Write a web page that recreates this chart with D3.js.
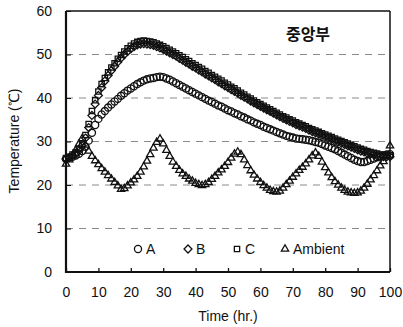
<!doctype html>
<html lang="ko">
<head>
  <meta charset="utf-8">
  <title>중앙부 Temperature</title>
  <style>
    body { margin:0; background:#fff; }
    svg { display:block; font-family:"Liberation Sans", Arial, sans-serif; }
    .grid line { stroke:#8a8a8a; stroke-dasharray:7,6; stroke-width:1; }
    .tick-label { font-size:14px; fill:#111; }
    .mark { fill:none; stroke:#111; stroke-width:1.3; }
  </style>
</head>
<body>
<svg id="chart" width="403" height="327"></svg>

<script src="https://cdn.jsdelivr.net/npm/d3@7"></script>
<script>
// hourly readings, t = 0..100
var hours = d3.range(0, 101);

var seriesA = [26,26.3,26.5,26.8,27.2,27.8,28.8,30.2,32,33.8,
  35.2,36.2,37,37.8,38.5,39.2,39.8,40.5,41.1,41.7,
  42.2,42.7,43.2,43.6,44,44.3,44.5,44.6,44.8,44.9,
  44.8,44.5,44.2,43.8,43.4,43,42.6,42.2,41.8,41.4,
  41,40.6,40.2,39.8,39.4,39.1,38.7,38.3,38,37.6,
  37.2,36.9,36.5,36.2,35.8,35.5,35.1,34.8,34.4,34.1,
  33.8,33.4,33.1,32.8,32.5,32.2,31.9,31.6,31.3,31.1,
  30.9,30.7,30.6,30.5,30.4,30.3,30.1,29.9,29.7,29.4,
  29.1,28.8,28.5,28.2,27.8,27.4,27,26.6,26.2,25.8,
  25.5,25.3,25.3,25.5,25.8,26.1,26.4,26.6,26.8,27,27.1];

var seriesB = [26,26.3,26.7,27.2,27.9,29,30.8,33.2,36,38.6,
  40.6,42.4,43.9,45.2,46.3,47.3,48.3,49.2,50,50.7,
  51.3,51.8,52.2,52.4,52.5,52.4,52.3,52.1,51.8,51.5,
  51.2,50.8,50.4,50,49.6,49.1,48.7,48.2,47.8,47.3,
  46.9,46.4,46,45.5,45.1,44.6,44.2,43.7,43.3,42.8,
  42.4,41.9,41.5,41.1,40.6,40.2,39.8,39.3,38.9,38.5,
  38.1,37.7,37.3,36.9,36.5,36.1,35.7,35.3,35,34.6,
  34.3,33.9,33.6,33.3,33,32.6,32.3,32,31.7,31.4,
  31.1,30.8,30.5,30.2,29.9,29.6,29.3,29,28.7,28.4,
  28.1,27.8,27.6,27.3,27.1,26.9,26.7,26.6,26.5,26.5,26.5];

var seriesC = [26.2,26.5,27,27.5,28.3,29.5,31.5,34,37,39.5,
  41.5,43.2,44.6,45.9,47,48,49,49.9,50.7,51.4,
  52,52.5,52.9,53.1,53.2,53.1,53,52.8,52.5,52.2,
  51.9,51.5,51.1,50.7,50.3,49.8,49.4,48.9,48.5,48,
  47.6,47.1,46.7,46.2,45.8,45.3,44.9,44.4,44,43.5,
  43.1,42.6,42.2,41.7,41.2,40.8,40.3,39.9,39.4,39,
  38.6,38.2,37.8,37.4,37,36.6,36.2,35.8,35.5,35.1,
  34.8,34.4,34.1,33.8,33.5,33.1,32.8,32.5,32.2,31.9,
  31.6,31.3,31,30.7,30.4,30.1,29.8,29.5,29.2,28.9,
  28.6,28.3,28.1,27.8,27.6,27.4,27.2,27,26.9,26.8,26.8];

var seriesAmbient = [24.8,25.8,26.8,28,29.4,30.7,29.2,27.8,26.6,25.6,
  24.7,23.8,23,22.2,21.4,20.6,19.8,19,19.2,19.8,
  20.5,21.2,22,23,24.2,25.5,27,28.5,29.8,30.6,
  29.5,28,26.6,25.3,24.3,23.4,22.6,22,21.4,20.9,
  20.4,20.1,19.9,20.1,20.6,21.3,22,22.8,23.5,24.3,
  25.2,26.2,27.1,27.6,27,25.8,24.5,23.3,22.3,21.4,
  20.6,19.9,19.3,18.8,18.5,18.4,18.6,19.3,20.1,20.9,
  21.8,22.6,23.4,24.1,24.9,25.8,26.7,27.4,26.6,25.3,
  24,22.8,21.7,20.8,20,19.3,18.8,18.4,18.2,18.1,
  18.2,18.6,19.3,20.2,21.2,22.2,23.3,24.4,25.4,26.5,29];

var seriesNames = ["A", "B", "C", "Ambient"];
var xTicks = [0,10,20,30,40,50,60,70,80,90,100];
var yTicks = [0,10,20,30,40,50,60];

(function(){
var svg = d3.select("#chart");
var m = { left: 66, right: 390, top: 11, bottom: 272 };

var x = d3.scaleLinear().domain([0, 100]).range([m.left, m.right]);
var y = d3.scaleLinear().domain([0, 60]).range([m.bottom, m.top]);

// dashed grid
svg.append("g").attr("class", "grid")
  .selectAll("line").data(yTicks.filter(function(d){ return d > 0 && d < 60; }))
  .enter().append("line")
  .attr("x1", m.left).attr("x2", m.right)
  .attr("y1", function(d){ return y(d); }).attr("y2", function(d){ return y(d); });

// y axis labels
svg.append("g").attr("transform", "translate(" + m.left + ",0)")
  .call(d3.axisLeft(y).tickValues(yTicks).tickSize(-5).tickPadding(14))
  .call(function(g){
    g.select(".domain").remove();
    g.selectAll("line").attr("stroke", "#111");
    g.selectAll("text").attr("class", "tick-label").style("font-size", "14px")
      .attr("font-family", null);
  });

// x axis labels
svg.append("g").attr("transform", "translate(0," + m.bottom + ")")
  .call(d3.axisBottom(x).tickValues(xTicks).tickSize(-4).tickPadding(15))
  .call(function(g){
    g.select(".domain").remove();
    g.selectAll("line").attr("stroke", "#111").attr("stroke-width", 1.3);
    g.selectAll("text").attr("class", "tick-label").style("font-size", "14px")
      .attr("font-family", null);
  });

// frame
svg.append("line").attr("x1", m.left).attr("x2", m.right).attr("y1", m.top).attr("y2", m.top)
  .attr("stroke", "#111").attr("stroke-width", 1.5);
svg.append("line").attr("x1", m.right).attr("x2", m.right).attr("y1", m.top).attr("y2", m.bottom)
  .attr("stroke", "#111").attr("stroke-width", 1.5);
svg.append("line").attr("x1", m.left).attr("x2", m.left).attr("y1", m.top).attr("y2", m.bottom + 1)
  .attr("stroke", "#111").attr("stroke-width", 2.2);
svg.append("line").attr("x1", m.left).attr("x2", m.right).attr("y1", m.bottom).attr("y2", m.bottom)
  .attr("stroke", "#111").attr("stroke-width", 2);

// marker symbols
var shapes = {
  "A": d3.symbol().type(d3.symbolCircle).size(40),
  "B": d3.symbol().type(d3.symbolDiamond2).size(40),
  "C": d3.symbol().type(d3.symbolSquare2).size(36),
  "Ambient": d3.symbol().type(d3.symbolTriangle2).size(38)
};
var values = { "A": seriesA, "B": seriesB, "C": seriesC, "Ambient": seriesAmbient };

seriesNames.forEach(function(name){
  svg.append("g").selectAll("path").data(values[name])
    .enter().append("path")
    .attr("class", "mark")
    .attr("d", shapes[name])
    .attr("transform", function(d, i){ return "translate(" + x(hours[i]) + "," + y(d) + ")"; });
});

// legend
var legendX = [138, 188, 237, 285];
var legend = svg.append("g");
seriesNames.forEach(function(name, i){
  legend.append("path").attr("class", "mark").attr("d", shapes[name])
    .attr("transform", "translate(" + legendX[i] + "," + 249 + ")");
  legend.append("text").attr("x", legendX[i] + 8).attr("y", 254)
    .style("font-size", "14px").attr("fill", "#111").text(name);
});

// title inside plot
svg.append("text").attr("x", 308).attr("y", 40).attr("text-anchor", "middle")
  .style("font-family", "'Noto Sans CJK KR', sans-serif").style("font-weight", "bold")
  .style("font-size", "16px").attr("fill", "#111").text("중앙부");

// axis titles
svg.append("text").attr("x", 228).attr("y", 321).attr("text-anchor", "middle")
  .style("font-size", "14px").attr("fill", "#111").text("Time (hr.)");
svg.append("text").attr("transform", "translate(19,141) rotate(-90)")
  .attr("text-anchor", "middle").style("font-size", "14px").attr("fill", "#111")
  .text("Temperature (℃)");
})();
</script>
</body>
</html>
